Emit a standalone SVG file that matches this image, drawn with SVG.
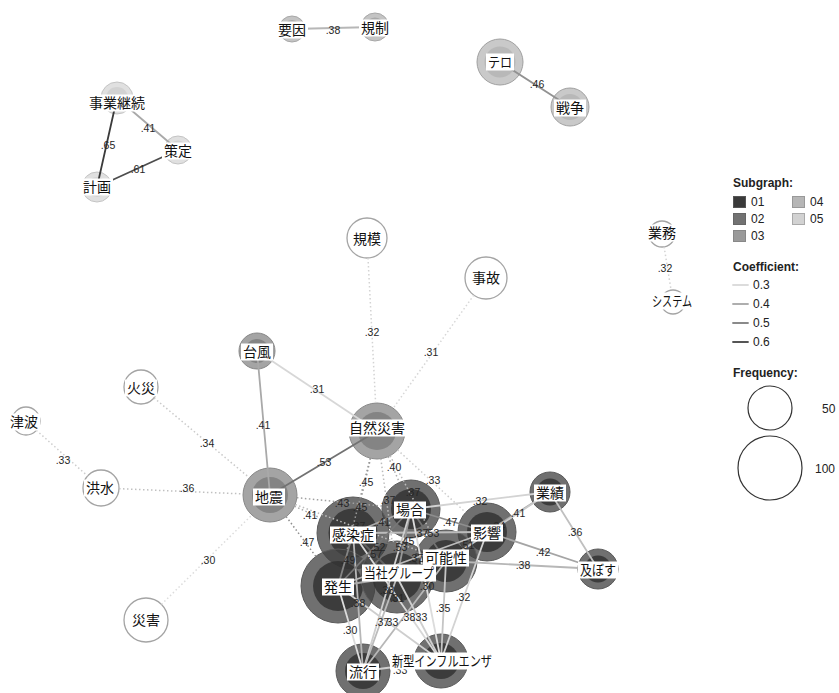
<svg xmlns="http://www.w3.org/2000/svg" width="839" height="693" viewBox="0 0 839 693">
<style>
  .bg{fill:#fff}
  .o{stroke-width:1}
  .sg1 .o{fill:#404040;fill-opacity:.75;stroke:#5a5a5a}
  .sg1 .i{fill:#2f2f2f;fill-opacity:.8}
  .sg2 .o{fill:#868686;fill-opacity:.75;stroke:#888}
  .sg2 .i{fill:#767676;fill-opacity:.7}
  .sg3 .o{fill:#b0b0b0;fill-opacity:.75;stroke:#a8a8a8}
  .sg3 .i{fill:#9c9c9c;fill-opacity:.7}
  .sg4 .o{fill:#b7b7b7;fill-opacity:.75;stroke:#a0a0a0}
  .sg4 .i{fill:#b1b1b1;fill-opacity:.7}
  .sg5 .o{fill:#d5d5d5;fill-opacity:.75;stroke:#c4c4c4}
  .sg5 .i{fill:#cccccc;fill-opacity:.7}
  .free .o{fill:#fff;stroke:#a4a4a4;stroke-width:1.3}
  .e{fill:none;stroke-width:1.8;stroke-linecap:round}
  .d{fill:none;stroke-width:1.5;stroke-dasharray:1.5 2.5}
  .k30{stroke:#dcdcdc}.k31{stroke:#d7d7d7}.k32{stroke:#d3d3d3}.k33{stroke:#cecece}
  .k34{stroke:#cacaca}.k35{stroke:#c5c5c5}.k36{stroke:#c0c0c0}.k37{stroke:#bcbcbc}
  .k38{stroke:#b7b7b7}.k40{stroke:#aeaeae}.k41{stroke:#a9a9a9}.k42{stroke:#a5a5a5}
  .k43{stroke:#a0a0a0}.k45{stroke:#979797}.k46{stroke:#929292}.k47{stroke:#8e8e8e}
  .k49{stroke:#858585}.k51{stroke:#7b7b7b}.k52{stroke:#777777}.k53{stroke:#727272}
  .k57{stroke:#606060}.k61{stroke:#4d4d4d}.k65{stroke:#3b3b3b}
  .el{font-family:"Liberation Sans",Arial,sans-serif;font-size:10.5px;fill:#262626;text-anchor:middle}
  .lb rect{fill:#fff}
  .lb text{font-family:"Noto Sans CJK JP","Noto Sans CJK SC",sans-serif;font-size:14px;fill:#111;text-anchor:middle}
  .lg{font-family:"Liberation Sans",Arial,sans-serif;font-size:12px;fill:#222}
  .lgh{font-family:"Liberation Sans",Arial,sans-serif;font-size:12px;font-weight:bold;fill:#222}
</style>
<rect class="bg" x="0" y="0" width="839" height="693"/>

<!-- node discs: outer bubble + inner core -->
<g id="nodes">
  <g id="n-youin" class="sg3"><circle class="o" cx="292" cy="29" r="13"/><circle class="i" cx="292" cy="29" r="9"/></g>
  <g id="n-kisei" class="sg3"><circle class="o" cx="375" cy="27" r="14"/><circle class="i" cx="375" cy="27" r="9.5"/></g>
  <g id="n-tero" class="sg4"><circle class="o" cx="500" cy="62" r="23"/><circle class="i" cx="500" cy="62" r="15.5"/></g>
  <g id="n-sensou" class="sg4"><circle class="o" cx="570" cy="107" r="19"/><circle class="i" cx="570" cy="107" r="13"/></g>
  <g id="n-jigyoukeizoku" class="sg5"><circle class="o" cx="117" cy="98" r="16"/><circle class="i" cx="117" cy="98" r="11"/></g>
  <g id="n-sakutei" class="sg5"><circle class="o" cx="178" cy="150" r="14"/><circle class="i" cx="178" cy="150" r="9.5"/></g>
  <g id="n-keikaku" class="sg5"><circle class="o" cx="97" cy="187" r="15"/><circle class="i" cx="97" cy="187" r="10"/></g>
  <g id="n-kibo" class="free"><circle class="o" cx="367" cy="238" r="20"/></g>
  <g id="n-jiko" class="free"><circle class="o" cx="486" cy="278" r="21"/></g>
  <g id="n-gyoumu" class="free"><circle class="o" cx="662" cy="234" r="13"/></g>
  <g id="n-system" class="free"><circle class="o" cx="673" cy="302" r="12"/></g>
  <g id="n-kasai" class="free"><circle class="o" cx="141" cy="387" r="17"/></g>
  <g id="n-tsunami" class="free"><circle class="o" cx="26" cy="421" r="14"/></g>
  <g id="n-kouzui" class="free"><circle class="o" cx="101" cy="488" r="18"/></g>
  <g id="n-saigai" class="free"><circle class="o" cx="146" cy="620" r="22"/></g>
  <g id="n-taifuu" class="sg2"><circle class="o" cx="257" cy="351" r="18"/><circle class="i" cx="257" cy="351" r="12"/></g>
  <g id="n-shizensaigai" class="sg2"><circle class="o" cx="377" cy="431" r="28"/><circle class="i" cx="377" cy="431" r="19"/></g>
  <g id="n-jishin" class="sg2"><circle class="o" cx="270" cy="495" r="27"/><circle class="i" cx="270" cy="495" r="18"/></g>
  <g id="n-gyouseki" class="sg1"><circle class="o" cx="550" cy="492" r="20"/><circle class="i" cx="550" cy="492" r="13.5"/></g>
  <g id="n-oyobosu" class="sg1"><circle class="o" cx="598" cy="569" r="20"/><circle class="i" cx="598" cy="569" r="13.5"/></g>
  <g id="n-eikyou" class="sg1"><circle class="o" cx="487" cy="532" r="29"/><circle class="i" cx="487" cy="532" r="20"/></g>
  <g id="n-baai" class="sg1"><circle class="o" cx="411" cy="509" r="29"/><circle class="i" cx="411" cy="509" r="20"/></g>
  <g id="n-kanousei" class="sg1"><circle class="o" cx="446" cy="561" r="31"/><circle class="i" cx="446" cy="561" r="21"/></g>
  <g id="n-kansenshou" class="sg1"><circle class="o" cx="353" cy="533" r="36"/><circle class="i" cx="353" cy="533" r="24.5"/></g>
  <g id="n-hassei" class="sg1"><circle class="o" cx="338" cy="586" r="37"/><circle class="i" cx="338" cy="586" r="25"/></g>
  <g id="n-tousha" class="sg1"><circle class="o" cx="397" cy="577" r="36"/><circle class="i" cx="397" cy="577" r="24.5"/></g>
  <g id="n-ryuukou" class="sg1"><circle class="o" cx="363" cy="671" r="27"/><circle class="i" cx="363" cy="671" r="18"/></g>
  <g id="n-shingata" class="sg1"><circle class="o" cx="441" cy="661" r="27"/><circle class="i" cx="441" cy="661" r="18"/></g>
</g>

<!-- connectors: solid = same subgraph, dotted = across subgraphs -->
<g id="connectors">
  <line class="e k38" x1="292" y1="29" x2="375" y2="27"/>
  <line class="e k46" x1="500" y1="62" x2="570" y2="107"/>
  <line class="e k41" x1="117" y1="98" x2="178" y2="150"/>
  <line class="e k65" x1="117" y1="98" x2="97" y2="187"/>
  <line class="e k61" x1="178" y1="150" x2="97" y2="187"/>
  <line class="e k31" x1="257" y1="351" x2="377" y2="431"/>
  <line class="e k41" x1="257" y1="351" x2="270" y2="495"/>
  <line class="e k53" x1="270" y1="495" x2="377" y2="431"/>

  <line class="e k41" x1="353" y1="533" x2="411" y2="509"/>
  <line class="e k37" x1="353" y1="533" x2="487" y2="532"/>
  <line class="e k53" x1="353" y1="533" x2="446" y2="561"/>
  <line class="e k49" x1="353" y1="533" x2="338" y2="586"/>
  <line class="e k57" x1="353" y1="533" x2="397" y2="577"/>
  <line class="e k38" x1="353" y1="533" x2="363" y2="671"/>
  <line class="e k31" x1="353" y1="533" x2="441" y2="661"/>
  <line class="e k47" x1="411" y1="509" x2="487" y2="532"/>
  <line class="e k53" x1="411" y1="509" x2="446" y2="561"/>
  <line class="e k52" x1="411" y1="509" x2="338" y2="586"/>
  <line class="e k45" x1="411" y1="509" x2="397" y2="577"/>
  <line class="e k33" x1="411" y1="509" x2="363" y2="671"/>
  <line class="e k30" x1="411" y1="509" x2="441" y2="661"/>
  <line class="e k32" x1="411" y1="509" x2="550" y2="492"/>
  <line class="e k51" x1="487" y1="532" x2="446" y2="561"/>
  <line class="e k41" x1="487" y1="532" x2="550" y2="492"/>
  <line class="e k42" x1="487" y1="532" x2="598" y2="569"/>
  <line class="e k37" x1="487" y1="532" x2="338" y2="586"/>
  <line class="e k32" x1="487" y1="532" x2="441" y2="661"/>
  <line class="e k38" x1="446" y1="561" x2="598" y2="569"/>
  <line class="e k52" x1="446" y1="561" x2="397" y2="577"/>
  <line class="e k38" x1="446" y1="561" x2="363" y2="671"/>
  <line class="e k35" x1="446" y1="561" x2="441" y2="661"/>
  <line class="e k34" x1="550" y1="492" x2="446" y2="561"/>
  <line class="e k41" x1="338" y1="586" x2="397" y2="577"/>
  <line class="e k30" x1="338" y1="586" x2="363" y2="671"/>
  <line class="e k33" x1="338" y1="586" x2="441" y2="661"/>
  <line class="e k37" x1="397" y1="577" x2="363" y2="671"/>
  <line class="e k33" x1="397" y1="577" x2="441" y2="661"/>
  <line class="e k33" x1="363" y1="671" x2="441" y2="661"/>
  <line class="e k36" x1="550" y1="492" x2="598" y2="569"/>

  <line class="d k32" x1="368" y1="258" x2="375.6" y2="403"/>
  <line class="d k31" x1="473.8" y1="295.1" x2="393.2" y2="408.2"/>
  <line class="d k45" x1="370.6" y1="458.2" x2="361.2" y2="498"/>
  <line class="d k40" x1="388.2" y1="456.7" x2="399.4" y2="482.4"/>
  <line class="d k33" x1="397.6" y1="449.9" x2="465.6" y2="512.4"/>
  <line class="d k45" x1="370.2" y1="458.2" x2="347" y2="550.1"/>
  <line class="d k37" x1="380.8" y1="458.7" x2="392.1" y2="541.3"/>
  <line class="d k37" x1="390.1" y1="455.7" x2="431.5" y2="533.6"/>
  <line class="d k43" x1="296.9" y1="497.7" x2="382.1" y2="506.1"/>
  <line class="d k41" x1="294.5" y1="506.2" x2="320.3" y2="518"/>
  <line class="d k47" x1="286.2" y1="516.6" x2="315.8" y2="556.4"/>
  <line class="d k37" x1="295.3" y1="504.5" x2="417" y2="550.1"/>
  <line class="d k34" x1="154" y1="397.9" x2="249.3" y2="477.7"/>
  <line class="d k36" x1="119" y1="488.7" x2="243" y2="493.9"/>
  <line class="d k30" x1="161.5" y1="604.4" x2="251" y2="515.8"/>
  <line class="d k33" x1="36.4" y1="430.3" x2="87.6" y2="476"/>
  <line class="d k32" x1="664.1" y1="246.8" x2="671.1" y2="290.2"/>

  <g id="coefficients">
    <text class="el" x="333" y="33.5">.38</text>
    <text class="el" x="537" y="87.5">.46</text>
    <text class="el" x="148" y="131.5">.41</text>
    <text class="el" x="108" y="148.5">.65</text>
    <text class="el" x="138" y="172.5">.61</text>
    <text class="el" x="317" y="392.5">.31</text>
    <text class="el" x="263" y="428.5">.41</text>
    <text class="el" x="324" y="465.5">.53</text>
    <text class="el" x="383" y="525.5">.41</text>
    <text class="el" x="421" y="536.5">.37</text>
    <text class="el" x="400" y="550.5">.53</text>
    <text class="el" x="348" y="563.5">.49</text>
    <text class="el" x="375" y="557.5">.57</text>
    <text class="el" x="358" y="606.5">.38</text>
    <text class="el" x="397" y="601.5">.31</text>
    <text class="el" x="450" y="525.5">.47</text>
    <text class="el" x="432" y="536.5">.53</text>
    <text class="el" x="378" y="550.5">.52</text>
    <text class="el" x="407" y="544.5">.45</text>
    <text class="el" x="387" y="593.5">.33</text>
    <text class="el" x="427" y="589.5">.30</text>
    <text class="el" x="480" y="504.5">.32</text>
    <text class="el" x="467" y="548.5">.51</text>
    <text class="el" x="518" y="516.5">.41</text>
    <text class="el" x="543" y="555.5">.42</text>
    <text class="el" x="416" y="561.5">.37</text>
    <text class="el" x="463" y="600.5">.32</text>
    <text class="el" x="523" y="568.5">.38</text>
    <text class="el" x="423" y="568.5">.52</text>
    <text class="el" x="408" y="620.5">.38</text>
    <text class="el" x="443" y="611.5">.35</text>
    <text class="el" x="350" y="633.5">.30</text>
    <text class="el" x="391" y="625.5">.33</text>
    <text class="el" x="382" y="625.5">.37</text>
    <text class="el" x="420" y="620.5">.33</text>
    <text class="el" x="400" y="673.5">.33</text>
    <text class="el" x="575" y="535.5">.36</text>
    <text class="el" x="498" y="529.5">.34</text>
    <text class="el" x="372" y="335.5">.32</text>
    <text class="el" x="431" y="355.5">.31</text>
    <text class="el" x="366" y="485.5">.45</text>
    <text class="el" x="394" y="470.5">.40</text>
    <text class="el" x="433" y="483.5">.33</text>
    <text class="el" x="360" y="510.5">.45</text>
    <text class="el" x="388" y="503.5">.37</text>
    <text class="el" x="413" y="495.5">.37</text>
    <text class="el" x="342" y="506.5">.43</text>
    <text class="el" x="310" y="518.5">.41</text>
    <text class="el" x="307" y="545.5">.47</text>
    <text class="el" x="358" y="529.5">.37</text>
    <text class="el" x="207" y="446.5">.34</text>
    <text class="el" x="187" y="491.5">.36</text>
    <text class="el" x="208" y="563.5">.30</text>
    <text class="el" x="63" y="463.5">.33</text>
    <text class="el" x="665" y="271.5">.32</text>
  </g>
</g>

<!-- word labels on white plates -->
<g id="labels" class="lb">
  <g id="l-youin"><rect x="276" y="21.5" width="32" height="17"/><text x="292" y="35">要因</text></g>
  <g id="l-kisei"><rect x="359" y="19.5" width="32" height="17"/><text x="375" y="33">規制</text></g>
  <g id="l-tero"><rect x="486" y="53.5" width="28" height="17"/><text x="500" y="67" textLength="24" lengthAdjust="spacingAndGlyphs">テロ</text></g>
  <g id="l-sensou"><rect x="554" y="99.5" width="32" height="17"/><text x="570" y="113">戦争</text></g>
  <g id="l-jigyoukeizoku"><rect x="87" y="94.5" width="60" height="17"/><text x="117" y="108">事業継続</text></g>
  <g id="l-sakutei"><rect x="162" y="142.5" width="32" height="17"/><text x="178" y="156">策定</text></g>
  <g id="l-keikaku"><rect x="81" y="178.5" width="32" height="17"/><text x="97" y="192">計画</text></g>
  <g id="l-kibo"><rect x="351" y="230.5" width="32" height="17"/><text x="367" y="244">規模</text></g>
  <g id="l-jiko"><rect x="470" y="269.5" width="32" height="17"/><text x="486" y="283">事故</text></g>
  <g id="l-gyoumu"><rect x="646" y="224.5" width="32" height="17"/><text x="662" y="238">業務</text></g>
  <g id="l-system"><rect x="650" y="292.5" width="44" height="17"/><text x="672" y="306" textLength="40" lengthAdjust="spacingAndGlyphs">システム</text></g>
  <g id="l-kasai"><rect x="125" y="379.5" width="32" height="17"/><text x="141" y="393">火災</text></g>
  <g id="l-tsunami"><rect x="8" y="413.5" width="32" height="17"/><text x="24" y="427">津波</text></g>
  <g id="l-kouzui"><rect x="84" y="479.5" width="32" height="17"/><text x="100" y="493">洪水</text></g>
  <g id="l-saigai"><rect x="130" y="611.5" width="32" height="17"/><text x="146" y="625">災害</text></g>
  <g id="l-taifuu"><rect x="241" y="343.5" width="32" height="17"/><text x="257" y="357">台風</text></g>
  <g id="l-shizensaigai"><rect x="347" y="419.5" width="60" height="17"/><text x="377" y="433">自然災害</text></g>
  <g id="l-jishin"><rect x="253" y="488.5" width="32" height="17"/><text x="269" y="502">地震</text></g>
  <g id="l-gyouseki"><rect x="534" y="484.5" width="32" height="17"/><text x="550" y="498">業績</text></g>
  <g id="l-oyobosu"><rect x="578" y="561.5" width="40" height="17"/><text x="598" y="575" textLength="36" lengthAdjust="spacingAndGlyphs">及ぼす</text></g>
  <g id="l-eikyou"><rect x="471" y="524.5" width="32" height="17"/><text x="487" y="538">影響</text></g>
  <g id="l-baai"><rect x="394" y="501.5" width="32" height="17"/><text x="410" y="515">場合</text></g>
  <g id="l-kanousei"><rect x="423" y="549.5" width="46" height="17"/><text x="446" y="563">可能性</text></g>
  <g id="l-kansenshou"><rect x="330" y="526.5" width="46" height="17"/><text x="353" y="540">感染症</text></g>
  <g id="l-hassei"><rect x="322" y="578.5" width="32" height="17"/><text x="338" y="592">発生</text></g>
  <g id="l-tousha"><rect x="362" y="564.5" width="74" height="17"/><text x="399" y="578" textLength="70" lengthAdjust="spacingAndGlyphs">当社グループ</text></g>
  <g id="l-ryuukou"><rect x="347" y="663.5" width="32" height="17"/><text x="363" y="677">流行</text></g>
  <g id="l-shingata"><rect x="390" y="652.5" width="104" height="17"/><text x="442" y="666" textLength="100" lengthAdjust="spacingAndGlyphs">新型インフルエンザ</text></g>
</g>

<!-- legend -->
<g id="legend">
  <text class="lgh" x="733" y="187">Subgraph:</text>
  <rect x="733.5" y="196.5" width="12" height="11" fill="#3a3a3a" stroke="#555"/>
  <text class="lg" x="751" y="206">01</text>
  <rect x="733.5" y="213.5" width="12" height="11" fill="#727272" stroke="#666"/>
  <text class="lg" x="751" y="223">02</text>
  <rect x="733.5" y="230.5" width="12" height="11" fill="#9a9a9a" stroke="#888"/>
  <text class="lg" x="751" y="240">03</text>
  <rect x="792.5" y="196.5" width="12" height="11" fill="#b6b6b6" stroke="#999"/>
  <text class="lg" x="810" y="206">04</text>
  <rect x="792.5" y="213.5" width="12" height="11" fill="#d2d2d2" stroke="#aaa"/>
  <text class="lg" x="810" y="223">05</text>

  <text class="lgh" x="733" y="271">Coefficient:</text>
  <line class="e k30" x1="733" y1="285" x2="748" y2="285" stroke-linecap="butt"/>
  <text class="lg" x="753" y="289">0.3</text>
  <line class="e k40" x1="733" y1="304" x2="748" y2="304" stroke-linecap="butt"/>
  <text class="lg" x="753" y="308">0.4</text>
  <line class="e" x1="733" y1="323" x2="748" y2="323" stroke="#8a8a8a" stroke-linecap="butt"/>
  <text class="lg" x="753" y="327">0.5</text>
  <line class="e" x1="733" y1="342" x2="748" y2="342" stroke="#555" stroke-linecap="butt"/>
  <text class="lg" x="753" y="346">0.6</text>

  <text class="lgh" x="733" y="377">Frequency:</text>
  <circle cx="770" cy="408" r="22" fill="none" stroke="#333" stroke-width="1.2"/>
  <text class="lg" x="822" y="413">50</text>
  <circle cx="770" cy="468" r="32" fill="none" stroke="#333" stroke-width="1.2"/>
  <text class="lg" x="815" y="473">100</text>
</g>
</svg>
